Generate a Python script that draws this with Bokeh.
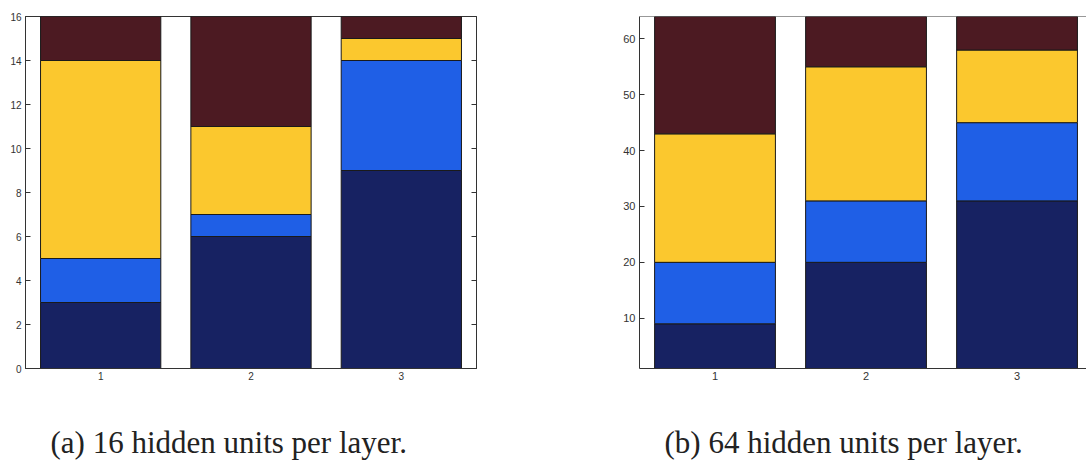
from bokeh.plotting import figure
from bokeh.models import Title, LinearAxis, FixedTicker, Range1d, Span, ColumnDataSource
from bokeh.layouts import row
from bokeh.embed import file_html
from bokeh.resources import INLINE

layers = [1, 2, 3]
series = ["s1", "s2", "s3", "s4"]
colors = ["#172262", "#1f5fe6", "#fbc82e", "#4c1a22"]

# (a) 16 hidden units per layer
a_s1 = [3, 6, 9]
a_s2 = [2, 1, 5]
a_s3 = [9, 4, 1]
a_s4 = [2, 5, 1]
a_ticks = [0, 2, 4, 6, 8, 10, 12, 14, 16]

# (b) 64 hidden units per layer
b_s1 = [9, 20, 31]
b_s2 = [11, 11, 14]
b_s3 = [23, 24, 13]
b_s4 = [21, 9, 6]
b_ticks = [10, 20, 30, 40, 50, 60]

caption_a = "(a) 16 hidden units per layer."
caption_b = "(b) 64 hidden units per layer."

AX = "#333333"
LBL = "#333333"


def make(vals, yr, xr_end, ticks, caption, bl, br, box, fs):
    src = ColumnDataSource(dict(x=layers, s1=vals[0], s2=vals[1], s3=vals[2], s4=vals[3]))
    p = figure(frame_width=451 if box else 447, frame_height=352,
               x_range=Range1d(0.5, xr_end), y_range=Range1d(*yr),
               output_backend="svg", toolbar_location=None,
               min_border_left=bl, min_border_right=br, min_border_top=16,
               min_border_bottom=93, background_fill_color="white",
               border_fill_color="white")
    p.vbar_stack(series, x="x", width=0.8, color=colors, source=src,
                 line_color="#1a1a1a", line_width=1)
    p.grid.visible = False
    for ax in (p.xaxis[0], p.yaxis[0]):
        ax.axis_line_color = AX
        ax.major_tick_out = 0
        ax.minor_tick_line_color = None
        ax.major_label_text_font = "Liberation Sans"
        ax.major_label_text_font_size = fs
        ax.major_label_text_color = LBL
        ax.major_tick_line_color = AX
    p.yaxis[0].major_tick_in = 5
    p.yaxis[0].major_label_standoff = 4
    p.yaxis[0].ticker = FixedTicker(ticks=ticks)
    p.xaxis[0].ticker = FixedTicker(ticks=layers)
    p.xaxis[0].major_tick_in = 0
    p.xaxis[0].major_label_standoff = 3
    if box:
        p.outline_line_color = AX
        p.outline_line_alpha = 1
        ra = LinearAxis(ticker=FixedTicker(ticks=ticks), major_tick_in=5,
                        major_tick_out=0, minor_tick_line_color=None,
                        axis_line_color=AX, major_tick_line_color=AX,
                        major_label_text_color=None,
                        major_label_text_font_size="10px")
        p.add_layout(ra, "right")
    else:
        p.outline_line_color = None
        p.add_layout(Span(location=yr[1], dimension="width", line_color=AX, line_width=1))
    t = Title(text=caption, align="left", offset=25,
              text_font="Liberation Serif", text_font_size="31px",
              text_font_style="normal", text_color="#222222", standoff=81)
    p.add_layout(t, "below")
    return p


p1 = make([a_s1, a_s2, a_s3, a_s4], (0, 16), 3.5, a_ticks, caption_a, 25, 80, True, "10px")
p2 = make([b_s1, b_s2, b_s3, b_s4], (1, 64), 3.46, b_ticks, caption_b, 83, 0, False, "11px")

layout = row(p1, p2)
open("out.html", "w").write(file_html(layout, INLINE))
